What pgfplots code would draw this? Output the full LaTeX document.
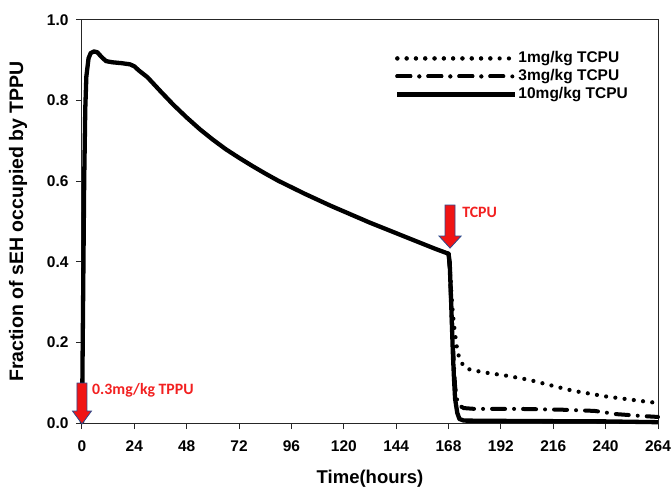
\documentclass[border=0pt]{standalone}
\usepackage{fontspec}
\setmainfont{Liberation Sans}
\newfontfamily\calib{Carlito}
\usepackage{pgfplots}
\pgfplotsset{compat=1.18}
\definecolor{arrred}{HTML}{F01414}
\definecolor{arredge}{HTML}{2E4A8C}
\definecolor{lblred}{HTML}{F22020}

\begin{document}
\begin{tikzpicture}
\begin{axis}[
  scale only axis, width=576pt, height=403pt,
  xmin=0, xmax=264, ymin=0, ymax=1,
  xtick={0,24,...,264}, ytick={0,0.2,...,1.0},
  axis line style={line width=1pt, black!85},
  tick style={line width=1pt, black!85},
  tick align=outside, major tick length=6pt,
  xtick pos=bottom, ytick pos=left,
  /pgf/number format/assume math mode=true,
  yticklabel style={xshift=-4pt, /pgf/number format/.cd, fixed, fixed zerofill, precision=1},
  xticklabel style={yshift=-8pt},
  tick label style={font=\fontsize{15.5}{17}\selectfont\bfseries},
  xlabel style={font=\fontsize{18.5}{20}\selectfont\bfseries, at={(axis description cs:0.5,-0.139)}, anchor=center},
  ylabel style={font=\fontsize{19.5}{21}\selectfont\bfseries, at={(axis description cs:-0.111,0.5)}, anchor=center},
  xlabel={Time(hours)}, ylabel={Fraction of sEH occupied by TPPU},
  legend style={draw=none, fill=none, inner sep=0pt, at={(0.5434,0.925)}, anchor=north west,
    font=\fontsize{15.5}{17}\selectfont\bfseries, row sep=2pt,
    nodes={inner sep=1pt, text height=11pt, text depth=3pt}},
  legend cell align=left,
  legend image code/.code={\draw[#1] (0pt,0pt) -- (95pt,0pt); \path (0pt,0pt) -- (118pt,0pt);},
  clip=false,
]
% 1 mg/kg TCPU
\addplot[black, line width=4.2pt, line cap=round, dash pattern=on 0pt off 9.3pt] coordinates {
(168,0.42) (168.7,0.38) (169.3,0.32) (170,0.27) (171,0.22) (172,0.18) (173,0.16) (175,0.14)
(178,0.132) (185,0.125) (195,0.117) (205,0.107) (213,0.096) (225,0.08) (240,0.066)
(250,0.059) (260,0.052) (264,0.05)};
\addlegendentry{1mg/kg TCPU}
% 3 mg/kg TCPU
\addplot[black, line width=4pt, line cap=round, dash pattern=on 13pt off 9pt on 0pt off 9pt] coordinates {
(168,0.42) (168.6,0.38) (169.2,0.3) (169.8,0.22) (170.4,0.15) (171,0.09) (172,0.055)
(173,0.043) (175,0.037) (180,0.035) (200,0.035) (220,0.033) (235,0.03) (245,0.022)
(255,0.018) (264,0.015)};
\addlegendentry{3mg/kg TCPU}
% 10 mg/kg TCPU (with the shared TPPU curve)
\addplot[black, line width=4.3pt, line join=round] coordinates {
(0,0) (0.5,0.3) (1,0.6) (1.5,0.78) (2,0.86) (3,0.905) (4,0.918) (5.5,0.922) (7,0.92)
(9,0.908) (11,0.898) (14,0.895) (18,0.893) (22,0.89) (24,0.885) (26,0.875) (30,0.858)
(36,0.823) (42,0.789) (48,0.758) (54,0.729) (60,0.703) (66,0.679) (72,0.658) (78,0.638)
(84,0.619) (90,0.601) (96,0.585) (102,0.569) (108,0.554) (114,0.539) (120,0.525)
(126,0.511) (132,0.497) (138,0.484) (144,0.471) (150,0.458) (156,0.445) (162,0.432)
(168,0.42) (168.5,0.40) (169,0.33) (169.5,0.25) (170,0.17) (170.5,0.11) (171,0.06)
(172,0.025) (173,0.01) (175,0.006) (200,0.005) (240,0.004) (264,0.002)};
\addlegendentry{10mg/kg TCPU}
% dose arrows
\coordinate (tipA) at (axis cs:0,0);
\draw[fill=arrred, draw=arredge, line width=0.8pt, line join=miter]
  ([shift={(-5pt,40pt)}]tipA) -- ([shift={(5pt,40pt)}]tipA) -- ([shift={(5pt,12pt)}]tipA)
  -- ([shift={(9.5pt,12pt)}]tipA) -- ([shift={(0pt,-1pt)}]tipA) -- ([shift={(-9.5pt,12pt)}]tipA)
  -- ([shift={(-5pt,12pt)}]tipA) -- cycle;
\node[anchor=west, text=lblred, font=\calib\fontsize{15.8}{17}\selectfont\bfseries, inner sep=0pt]
  at ([shift={(10pt,33pt)}]tipA) {0.3mg/kg TPPU};
\coordinate (tipB) at (axis cs:168.7,0.434);
\draw[fill=arrred, draw=arredge, line width=0.8pt, line join=miter]
  ([shift={(-5pt,43pt)}]tipB) -- ([shift={(5pt,43pt)}]tipB) -- ([shift={(5pt,12pt)}]tipB)
  -- ([shift={(11pt,12pt)}]tipB) -- (tipB) -- ([shift={(-11pt,12pt)}]tipB)
  -- ([shift={(-5pt,12pt)}]tipB) -- cycle;
\node[anchor=west, text=lblred, font=\calib\fontsize{15.8}{17}\selectfont\bfseries, inner sep=0pt]
  at ([shift={(12pt,36pt)}]tipB) {TCPU};
\end{axis}
\pgfresetboundingbox
\path[use as bounding box] ([shift={(-82pt,-68pt)}]current axis.south west) rectangle ([shift={(14pt,20pt)}]current axis.north east);
\end{tikzpicture}
\end{document}
